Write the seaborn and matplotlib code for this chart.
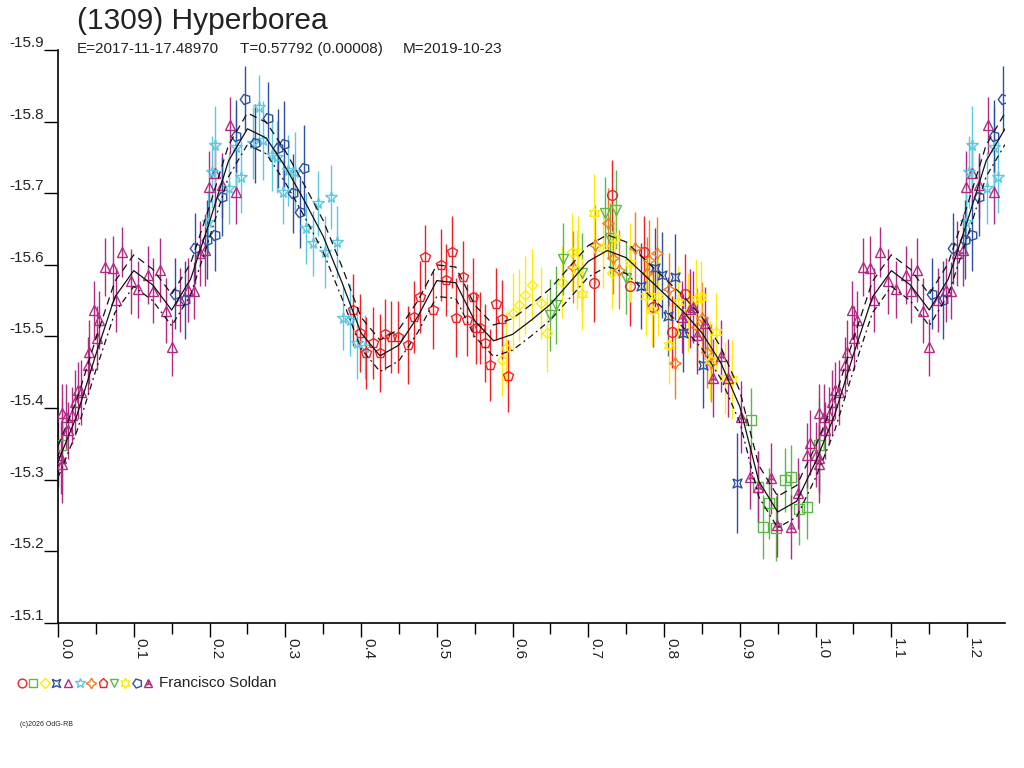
import numpy as np
import matplotlib
matplotlib.use("Agg")
import matplotlib.pyplot as plt
import seaborn as sns

# fitted light curve, read every 0.025 in phase (0.0 .. 0.975)
fit_phase = [i * 0.025 for i in range(40)]
fit_mag = [-15.325, -15.390, -15.475, -15.555, -15.592, -15.572, -15.537, -15.580,
           -15.660, -15.745, -15.790, -15.777, -15.737, -15.690, -15.640, -15.575,
           -15.505, -15.473, -15.488, -15.528, -15.578, -15.575, -15.522, -15.494,
           -15.503, -15.523, -15.545, -15.575, -15.605, -15.620, -15.610, -15.585,
           -15.560, -15.535, -15.505, -15.463, -15.402, -15.298, -15.255, -15.270]
fit_band = 0.022

# sessions: phase, magnitude, error
ph1 = [0.707, 0.731, 0.755, 0.773, 0.785, 0.811, 0.828]
mag1 = [-15.575, -15.697, -15.570, -15.618, -15.541, -15.506, -15.560]
err1 = [0.055, 0.050, 0.055, 0.050, 0.055, 0.050, 0.055]

ph2 = [0.005, 0.915, 0.924, 0.930, 0.938, 0.948, 0.959, 0.967, 0.978, 0.988]
mag2 = [-15.349, -15.383, -15.290, -15.234, -15.267, -15.232, -15.300, -15.304, -15.259, -15.262]
err2 = [0.065, 0.045, 0.050, 0.045, 0.050, 0.045, 0.045, 0.045, 0.050, 0.045]

ph3 = [0.586, 0.592, 0.600, 0.609, 0.617, 0.625, 0.637, 0.646, 0.665, 0.678, 0.686, 0.731]
mag3 = [-15.467, -15.484, -15.533, -15.544, -15.558, -15.572, -15.547, -15.505,
        -15.576, -15.618, -15.618, -15.589]
err3 = [0.050, 0.050, 0.055, 0.050, 0.055, 0.050, 0.050, 0.055, 0.050, 0.055, 0.050, 0.050]

ph4 = [0.770, 0.788, 0.797, 0.805, 0.815, 0.825, 0.851, 0.896]
mag4 = [-15.570, -15.596, -15.586, -15.528, -15.583, -15.505, -15.460, -15.295]
err4 = [0.060, 0.055, 0.060, 0.055, 0.060, 0.055, 0.060, 0.070]

ph5 = [0.000, 0.004, 0.005, 0.005, 0.011, 0.013, 0.018, 0.022, 0.026, 0.031,
       0.039, 0.041, 0.048, 0.051, 0.054, 0.062, 0.072, 0.077, 0.085, 0.096,
       0.106, 0.119, 0.126, 0.134, 0.142, 0.150, 0.161, 0.172, 0.179, 0.187,
       0.194, 0.199, 0.207, 0.216, 0.227, 0.235, 0.989, 0.993]
mag5 = [-15.335, -15.330, -15.322, -15.393, -15.388, -15.369, -15.390, -15.408, -15.425, -15.422,
        -15.460, -15.478, -15.537, -15.498, -15.523, -15.597, -15.596, -15.551, -15.618, -15.577,
        -15.566, -15.586, -15.564, -15.593, -15.536, -15.485, -15.551, -15.565, -15.564, -15.616,
        -15.621, -15.709, -15.728, -15.711, -15.795, -15.702, -15.334, -15.352]
err5 = [0.045, 0.050, 0.055, 0.040, 0.045, 0.040, 0.040, 0.045, 0.040, 0.045,
        0.040, 0.045, 0.040, 0.045, 0.040, 0.040, 0.045, 0.045, 0.035, 0.045,
        0.040, 0.040, 0.045, 0.045, 0.045, 0.040, 0.045, 0.045, 0.040, 0.045,
        0.050, 0.050, 0.045, 0.045, 0.040, 0.045, 0.045, 0.045]

ph6 = [0.198, 0.203, 0.207, 0.226, 0.235, 0.241, 0.257, 0.265, 0.270, 0.282,
       0.289, 0.297, 0.304, 0.313, 0.328, 0.336, 0.343, 0.352, 0.360, 0.368,
       0.376, 0.385, 0.395, 0.405]
mag6 = [-15.660, -15.730, -15.767, -15.707, -15.765, -15.723, -15.770, -15.820, -15.774, -15.753,
        -15.751, -15.702, -15.732, -15.730, -15.651, -15.630, -15.686, -15.618, -15.695, -15.632,
        -15.526, -15.523, -15.491, -15.485]
err6 = [0.045, 0.050, 0.055, 0.050, 0.055, 0.050, 0.050, 0.045, 0.055, 0.050,
        0.050, 0.045, 0.050, 0.055, 0.050, 0.045, 0.045, 0.050, 0.045, 0.050,
        0.045, 0.050, 0.050, 0.045]

ph7 = [0.680, 0.709, 0.726, 0.733, 0.741, 0.761, 0.777, 0.780, 0.790, 0.806,
       0.815, 0.843, 0.850, 0.856, 0.862]
mag7 = [-15.597, -15.628, -15.658, -15.610, -15.593, -15.624, -15.589, -15.607, -15.617, -15.567,
        -15.463, -15.513, -15.526, -15.478, -15.463]
err7 = [0.050, 0.055, 0.050, 0.050, 0.055, 0.050, 0.050, 0.055, 0.050, 0.050,
        0.050, 0.055, 0.050, 0.050, 0.055]

ph8 = [0.389, 0.398, 0.406, 0.416, 0.425, 0.431, 0.440, 0.449, 0.462, 0.470,
       0.478, 0.485, 0.495, 0.505, 0.512, 0.520, 0.526, 0.534, 0.540, 0.548,
       0.552, 0.557, 0.563, 0.570, 0.578, 0.586, 0.594]
mag8 = [-15.537, -15.505, -15.477, -15.491, -15.477, -15.503, -15.499, -15.499, -15.488, -15.527,
        -15.555, -15.611, -15.537, -15.600, -15.579, -15.618, -15.526, -15.583, -15.523, -15.555,
        -15.512, -15.512, -15.491, -15.460, -15.545, -15.524, -15.445]
err8 = [0.050, 0.055, 0.050, 0.050, 0.055, 0.050, 0.050, 0.050, 0.055, 0.050,
        0.050, 0.045, 0.055, 0.050, 0.050, 0.050, 0.055, 0.050, 0.050, 0.055,
        0.050, 0.050, 0.055, 0.050, 0.050, 0.055, 0.050]

ph9 = [0.649, 0.657, 0.666, 0.692, 0.722, 0.728, 0.736, 0.750]
mag9 = [-15.530, -15.544, -15.608, -15.589, -15.672, -15.637, -15.677, -15.582]
err9 = [0.050, 0.055, 0.050, 0.055, 0.050, 0.050, 0.055, 0.050]

ph10 = [0.685, 0.691, 0.707, 0.719, 0.735, 0.755, 0.776, 0.784, 0.792, 0.807,
        0.818, 0.831, 0.842, 0.849, 0.860, 0.869, 0.880, 0.889]
mag10 = [-15.593, -15.559, -15.672, -15.623, -15.637, -15.603, -15.556, -15.537, -15.556, -15.488,
         -15.548, -15.534, -15.553, -15.555, -15.467, -15.506, -15.442, -15.440]
err10 = [0.055, 0.050, 0.055, 0.055, 0.050, 0.055, 0.055, 0.050, 0.055, 0.055,
         0.050, 0.055, 0.055, 0.050, 0.055, 0.055, 0.050, 0.055]

ph11 = [0.154, 0.168, 0.181, 0.197, 0.207, 0.216, 0.235, 0.247, 0.260, 0.277,
        0.290, 0.298, 0.310, 0.319, 0.325]
mag11 = [-15.560, -15.551, -15.623, -15.635, -15.642, -15.695, -15.780, -15.832, -15.770, -15.805,
         -15.763, -15.769, -15.700, -15.674, -15.735]
err11 = [0.050, 0.055, 0.050, 0.055, 0.050, 0.055, 0.050, 0.045, 0.055, 0.050,
         0.055, 0.060, 0.055, 0.050, 0.060]

ph12 = [0.823, 0.834, 0.838, 0.844, 0.854, 0.864, 0.875, 0.884, 0.902, 0.913,
        0.924, 0.941, 0.949, 0.968, 0.977]
mag12 = [-15.527, -15.539, -15.541, -15.502, -15.519, -15.442, -15.473, -15.442, -15.388, -15.304,
         -15.290, -15.302, -15.237, -15.234, -15.281]
err12 = [0.050, 0.055, 0.050, 0.055, 0.050, 0.055, 0.050, 0.055, 0.050, 0.045,
         0.050, 0.050, 0.045, 0.045, 0.050]

red = '#ee2226'
green = '#5bb848'
yellow = '#ffec00'
blue = '#2e4fa3'
purple = '#b22a84'
cyan = '#5ec8de'
orange = '#f47c20'

bowtie = [(-1, 1), (0, 0.55), (1, 1), (0.55, 0), (1, -1), (0, -0.55), (-1, -1), (-0.55, 0), (-1, 1)]

sessions = [
    (ph1, mag1, err1, red, 'o', 7),
    (ph2, mag2, err2, green, 's', 6.5),
    (ph3, mag3, err3, yellow, 'D', 5.5),
    (ph4, mag4, err4, blue, bowtie, 6.5),
    (ph5, mag5, err5, purple, '^', 7),
    (ph6, mag6, err6, cyan, '*', 8.5),
    (ph7, mag7, err7, orange, (4, 1, 0), 8.5),
    (ph8, mag8, err8, red, 'p', 7.5),
    (ph9, mag9, err9, green, 'v', 7),
    (ph10, mag10, err10, yellow, (6, 1, 0), 8.5),
    (ph11, mag11, err11, blue, (5, 0, 20), 7.5),
    (ph12, mag12, err12, purple, '^', 7),
]

sns.set_style('ticks')
plt.rcParams['font.family'] = ['Liberation Sans', 'DejaVu Sans']
text_col = '#222222'

fig = plt.figure(figsize=(10.24, 7.68), dpi=100)
ax = fig.add_axes([58 / 1024, 1 - 623 / 768, 947 / 1024, 573 / 768])

for ph, mag, err, col, mk, ms in sessions:
    ph = np.array(ph)
    mag = np.array(mag)
    err = np.array(err)
    wrap = ph < 0.25
    x = np.concatenate([ph, ph[wrap] + 1.0])
    y = np.concatenate([mag, mag[wrap]])
    e = np.concatenate([err, err[wrap]])
    ax.errorbar(x, y, yerr=e, fmt='none', ecolor=col, elinewidth=1.0, capsize=0, zorder=2)
    ax.plot(x, y, linestyle='none', marker=mk, markersize=ms, markerfacecolor='none',
            markeredgecolor=col, markeredgewidth=1.0, zorder=3)
    if col == purple and ph[0] > 0.5:
        ax.plot(x, y, linestyle='none', marker='2', markersize=4.5, markeredgecolor=col,
                markeredgewidth=1.0, zorder=3)

fx = np.concatenate([fit_phase, np.array(fit_phase) + 1.0, [2.0]])
fy = np.concatenate([fit_mag, fit_mag, [fit_mag[0]]])
keep = fx <= 1.26
fx, fy = fx[keep], fy[keep]
sns.lineplot(x=fx, y=fy, ax=ax, color='#111111', lw=0.9, estimator=None, sort=False, zorder=4)
sns.lineplot(x=fx, y=fy - fit_band, ax=ax, color='#111111', lw=0.9, estimator=None, sort=False,
             zorder=4, linestyle=(0, (6, 4)))
sns.lineplot(x=fx, y=fy + fit_band, ax=ax, color='#111111', lw=0.9, estimator=None, sort=False,
             zorder=4, linestyle=(0, (5, 3, 1.5, 3)))

ax.set_xlim(0, 1.25)
ax.set_ylim(-15.1, -15.9)
ax.set_xticks(np.arange(0, 1.21, 0.1))
ax.set_xticks(np.arange(0.05, 1.25, 0.1), minor=True)
ax.set_xticklabels(['%.1f' % v for v in np.arange(0, 1.21, 0.1)], rotation=-90,
                   ha='left', va='top', fontsize=11, color=text_col)
ax.set_yticks(np.arange(-15.9, -15.05, 0.1))
ax.set_yticklabels(['%.1f' % v for v in np.arange(-15.9, -15.05, 0.1)], fontsize=11,
                   color=text_col)
for lab in ax.get_yticklabels():
    lab.set_va('bottom')
ax.tick_params(axis='x', which='major', length=10, width=1, pad=1, colors='#000000',
               labelcolor=text_col)
ax.tick_params(axis='x', which='minor', length=8, width=1, colors='#000000')
ax.tick_params(axis='y', length=10, width=1, pad=0, colors='#000000', labelcolor=text_col)
ax.set_xlabel('')
ax.set_ylabel('')
for s in ['top', 'right']:
    ax.spines[s].set_visible(False)
for s in ['left', 'bottom']:
    ax.spines[s].set_color('#000000')
    ax.spines[s].set_linewidth(1.2)
ax.set_facecolor('white')

fig.text(77 / 1024, 1 - 29 / 768, '(1309) Hyperborea', fontsize=21.5, color=text_col,
         va='baseline', ha='left')
fig.text(77 / 1024, 1 - 53 / 768, 'E=2017-11-17.48970', fontsize=11, color=text_col, va='baseline')
fig.text(240 / 1024, 1 - 53 / 768, 'T=0.57792 (0.00008)', fontsize=11, color=text_col, va='baseline')
fig.text(403 / 1024, 1 - 53 / 768, 'M=2019-10-23', fontsize=11, color=text_col, va='baseline')

# session key below the plot
kx = fig.add_axes([0, 0, 1, 1])
kx.set_xlim(0, 1024)
kx.set_ylim(768, 0)
kx.axis('off')
key_x = [22, 33, 45, 56, 68, 80, 91, 103, 114, 125, 137, 148]
for kxp, (ph, mag, err, col, mk, ms) in zip(key_x, sessions):
    kx.plot([kxp], [683], linestyle='none', marker=mk, markersize=ms * 0.9,
            markerfacecolor='none', markeredgecolor=col, markeredgewidth=1.0)
kx.plot([148], [683], linestyle='none', marker='2', markersize=4.5, markeredgecolor=purple)
kx.text(159, 683, 'Francisco Soldan', fontsize=11, color=text_col, va='center', ha='left')
kx.text(20, 725, '(c)2026 OdG-RB', fontsize=5, color=text_col, va='center', ha='left')

fig.savefig('out.png', dpi=100, facecolor='white')
